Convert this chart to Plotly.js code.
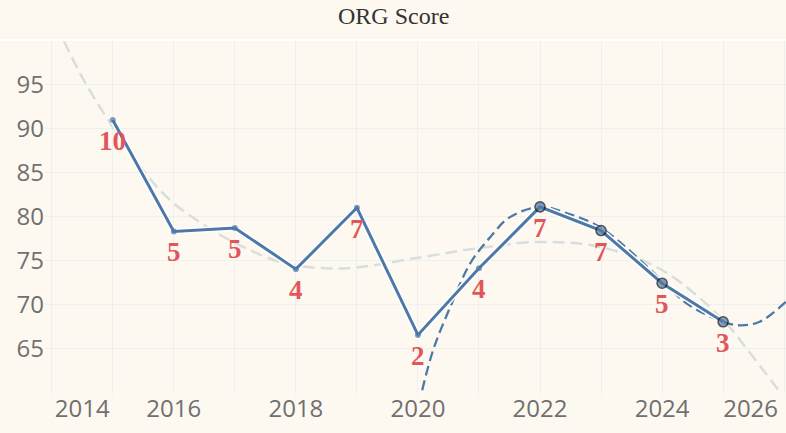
<!DOCTYPE html>
<html>
<head>
<meta charset="utf-8">
<script src="https://cdn.plot.ly/plotly-3.0.1.min.js"></script>
<style>
  html, body { margin: 0; padding: 0; background: #fdf9f1; }
  #chart { width: 786px; height: 433px; }
</style>
</head>
<body>
<div id="chart"></div>
<script>
// ----------------------------- Data ------------------------------------------
var years  = [2015, 2016, 2017, 2018, 2019, 2020, 2021, 2022, 2023, 2024, 2025];
var scores = [91.0, 78.3, 78.7, 74.0, 81.0, 66.5, 74.1, 81.1, 78.4, 72.4, 68.0];
var counts = ["10", "5", "5", "4", "7", "2", "4", "7", "7", "5", "3"];

// trend over all years (grey dashed)
var allTrendX = [2014.2, 2014.52, 2015, 2015.62, 2016, 2016.44, 2017, 2017.8, 2018.5, 2019,
                 2020, 2021, 2022, 2023, 2024, 2025, 2025.4, 2025.93];
var allTrendY = [100, 95.6, 90.2, 84.2, 81.5, 79.3, 77.0, 74.7, 74.1, 74.2,
                 75.3, 76.4, 77.1, 76.5, 73.9, 68.2, 64.8, 60];

// trend over recent years (blue dashed)
var recentTrendX = [2020.07, 2020.25, 2020.53, 2020.86, 2021.19, 2021.5, 2022, 2022.43,
                    2023, 2024, 2024.4, 2025, 2025.28, 2025.6, 2026.03];
var recentTrendY = [60.2, 64.8, 69.7, 74.7, 77.7, 79.9, 81.1, 80.4,
                    78.7, 72.7, 70.1, 68.0, 67.6, 68.0, 70.3];

var tickYears = [2014, 2016, 2018, 2020, 2022, 2024, 2026];
var gridYears = [2014, 2015, 2016, 2017, 2018, 2019, 2020, 2021, 2022, 2023, 2024, 2025, 2026];
var highlightFrom = 2022;
var chartTitle = "ORG Score";
// =============================================================================

var blue = "#4e79a7";
var red = "#e15759";
var bg = "#fdf9f1";
var grid = "#eef0f0";
var tickFont = { family: "Open Sans", size: 24, color: "#707070" };

// edge labels are pulled inside the plot like the original
var tickPos = tickYears.map(function (y) {
  if (y == 2014) return 2014.5;
  if (y == 2026) return 2025.45;
  return y;
});

var markerSize = years.map(function (y) { return y >= highlightFrom ? 10 : 6; });
var markerLine = years.map(function (y) { return y >= highlightFrom ? 1.6 : 0; });

var data = [{
  x: allTrendX, y: allTrendY,
  mode: "lines",
  line: { color: "#d8dede", width: 2.5, dash: "12px,6px", shape: "spline" },
  hoverinfo: "none", showlegend: false
}, {
  x: recentTrendX, y: recentTrendY,
  mode: "lines",
  line: { color: blue, width: 2.3, dash: "10px,5px", shape: "spline" },
  hoverinfo: "none", showlegend: false
}, {
  x: years, y: scores,
  mode: "lines",
  line: { color: "#ffffff", width: 6 },
  hoverinfo: "none", showlegend: false
}, {
  x: years, y: scores,
  mode: "lines+markers",
  line: { color: blue, width: 3 },
  marker: { color: blue, size: markerSize, line: { color: "#111111", width: markerLine } },
  name: "ORG Score", showlegend: false
}];

var annotations = years.map(function (y, i) {
  return {
    x: y, y: scores[i], text: counts[i],
    showarrow: false, yshift: -21,
    font: { family: "Liberation Serif", size: 27, color: red, weight: 700 }
  };
});

// title drawn as a paper annotation centred on the page
annotations.push({
  xref: "paper", yref: "paper",
  x: (393 - 45) / 741, y: 1.071,
  xanchor: "center", yanchor: "middle",
  text: chartTitle, showarrow: false,
  font: { family: "Liberation Serif", size: 24, color: "#333333" }
});

var layout = {
  width: 786, height: 433,
  margin: { l: 45, r: 0, t: 41, b: 41 },
  paper_bgcolor: bg,
  plot_bgcolor: bg,
  xaxis: {
    range: [2013.89, 2026.03],
    tickmode: "array", tickvals: tickPos, ticktext: tickYears.map(String),
    showgrid: false, zeroline: false, showline: false, ticks: "",
    tickfont: tickFont,
    minor: { tickmode: "array", tickvals: gridYears, showgrid: true, gridcolor: grid, gridwidth: 1,
             ticks: "outside", ticklen: 3, tickcolor: grid }
  },
  yaxis: {
    range: [60, 100],
    tickmode: "array",
    tickvals: [60, 65, 70, 75, 80, 85, 90, 95, 100],
    ticktext: ["", "65", "70", "75", "80", "85", "90", "95", ""],
    showgrid: true, gridcolor: grid, gridwidth: 1,
    zeroline: false, showline: false, ticks: "",
    tickfont: tickFont
  },
  shapes: [{
    type: "line", xref: "paper", yref: "paper",
    x0: -0.07, x1: 1.01, y0: 1.003, y1: 1.003,
    line: { color: "#ffffff", width: 2 }
  }],
  annotations: annotations
};

Plotly.newPlot("chart", data, layout, { displayModeBar: false, staticPlot: true });
</script>
</body>
</html>
